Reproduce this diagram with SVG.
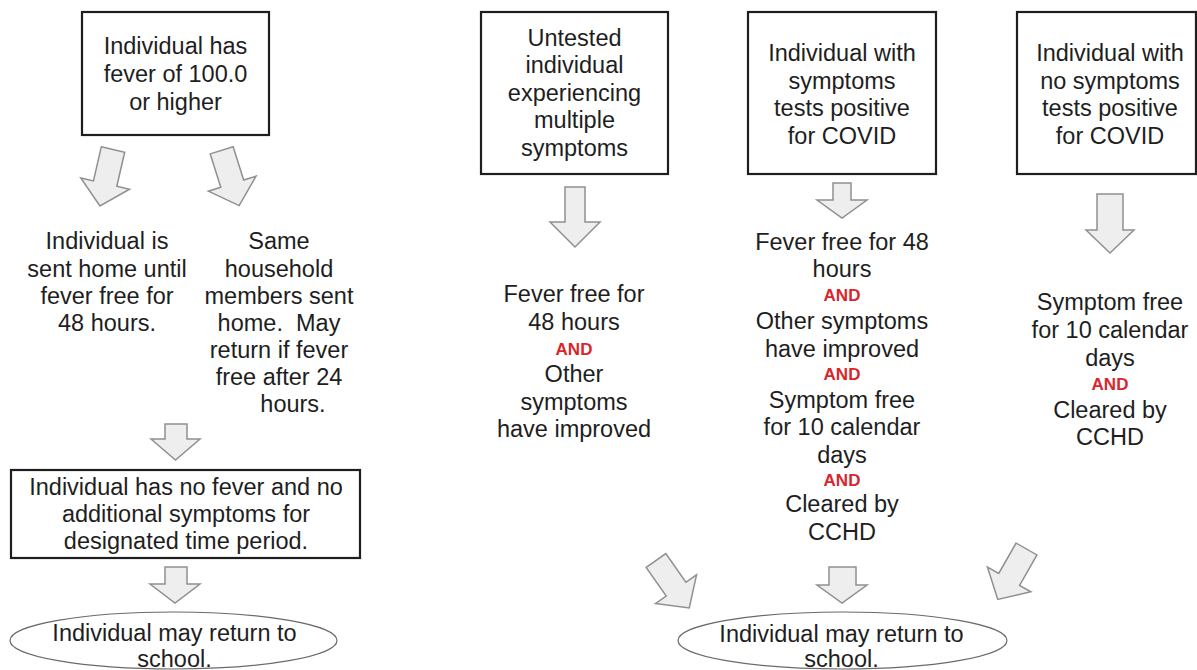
<svg xmlns="http://www.w3.org/2000/svg" width="1197" height="670" viewBox="0 0 1197 670">
<defs>
<style>
.t{font-family:"Liberation Sans",Arial,sans-serif;font-size:23.5px;fill:#1e1e1e;text-anchor:middle}
.and{font-family:"Liberation Sans",Arial,sans-serif;font-size:17px;font-weight:bold;fill:#d9262c;text-anchor:middle}
.box{fill:#ffffff;stroke:#1e1e1e;stroke-width:2.2}
.ell{fill:#ffffff;stroke:#6a6a6a;stroke-width:1.2}
.arr{fill:#eeeeee;stroke:#909090;stroke-width:1.5;stroke-linejoin:miter}
</style>
<path id="da" d="M-12,0 H12 V35 H25 L0,58 L-25,35 H-12 Z"/>
</defs>
<rect width="1197" height="670" fill="#ffffff"/>

<g id="connectors">
<use href="#da" class="arr" transform="translate(113,149.5) rotate(13)"/>
<use href="#da" class="arr" transform="translate(221.7,150.3) rotate(-17.5)"/>
<path class="arr" d="M165,424 H187 V439 H200 L175.5,460 L151,439 H165 Z"/>
<path class="arr" d="M165,567 H187 V584 H200 L175,603 L150,584 H165 Z"/>
<path class="arr" d="M565,187 H585 V222 H600 L575,247 L550,222 H565 Z"/>
<path class="arr" d="M833,183 H851 V200 H867 L842,218 L817,200 H833 Z"/>
<path class="arr" d="M1097,194 H1123 V230 H1134 L1110,253 L1086,230 H1097 Z"/>
<path class="arr" d="M829,567 H856 V585 H867 L842,603 L817,585 H829 Z"/>
<use href="#da" class="arr" transform="translate(656,560.5) rotate(-35)"/>
<use href="#da" class="arr" transform="translate(1026.5,549) rotate(29.7)"/>
</g>

<g id="n1">
<rect class="box" x="82" y="12" width="187" height="123"/>
<text class="t" x="175.5" y="54">Individual has</text>
<text class="t" x="175.5" y="82">fever of 100.0</text>
<text class="t" x="175.5" y="110">or higher</text>
</g>

<g id="n2">
<text class="t" x="107" y="249">Individual is</text>
<text class="t" x="107" y="276.5">sent home until</text>
<text class="t" x="107" y="304">fever free for</text>
<text class="t" x="107" y="331">48 hours.</text>
</g>

<g id="n3">
<text class="t" x="279" y="249">Same</text>
<text class="t" x="279" y="276.5">household</text>
<text class="t" x="279" y="304">members sent</text>
<text class="t" x="279" y="331" xml:space="preserve">home.  May</text>
<text class="t" x="279" y="358">return if fever</text>
<text class="t" x="279" y="385">free after 24</text>
<text class="t" x="293" y="412">hours.</text>
</g>

<g id="n4">
<rect class="box" x="11" y="470" width="349" height="88"/>
<text class="t" x="186" y="495">Individual has no fever and no</text>
<text class="t" x="186" y="522">additional symptoms for</text>
<text class="t" x="186" y="549">designated time period.</text>
</g>

<g id="n5">
<ellipse class="ell" cx="173.5" cy="640.5" rx="163.5" ry="28.5"/>
<text class="t" x="174.5" y="641">Individual may return to</text>
<text class="t" x="174.5" y="667">school.</text>
</g>

<g id="n6">
<rect class="box" x="481" y="12" width="187" height="162"/>
<text class="t" x="574.5" y="46">Untested</text>
<text class="t" x="574.5" y="73">individual</text>
<text class="t" x="574.5" y="100.5">experiencing</text>
<text class="t" x="574.5" y="128">multiple</text>
<text class="t" x="574.5" y="155.5">symptoms</text>
</g>

<g id="n7">
<rect class="box" x="748" y="12" width="188" height="162"/>
<text class="t" x="842" y="61">Individual with</text>
<text class="t" x="842" y="88.5">symptoms</text>
<text class="t" x="842" y="116">tests positive</text>
<text class="t" x="842" y="143.5">for COVID</text>
</g>

<g id="n8">
<rect class="box" x="1017" y="12" width="179" height="162"/>
<text class="t" x="1110" y="61">Individual with</text>
<text class="t" x="1110" y="88.5">no symptoms</text>
<text class="t" x="1110" y="116">tests positive</text>
<text class="t" x="1110" y="143.5">for COVID</text>
</g>

<g id="n9">
<text class="t" x="574" y="302">Fever free for</text>
<text class="t" x="574" y="330">48 hours</text>
<text class="and" x="574" y="355">AND</text>
<text class="t" x="574" y="382">Other</text>
<text class="t" x="574" y="409.5">symptoms</text>
<text class="t" x="574" y="437">have improved</text>
</g>

<g id="n10">
<text class="t" x="842" y="249.5">Fever free for 48</text>
<text class="t" x="842" y="277">hours</text>
<text class="and" x="842" y="301">AND</text>
<text class="t" x="842" y="329">Other symptoms</text>
<text class="t" x="842" y="356.5">have improved</text>
<text class="and" x="842" y="379.5">AND</text>
<text class="t" x="842" y="408">Symptom free</text>
<text class="t" x="842" y="435">for 10 calendar</text>
<text class="t" x="842" y="462.5">days</text>
<text class="and" x="842" y="485.5">AND</text>
<text class="t" x="842" y="512">Cleared by</text>
<text class="t" x="842" y="540">CCHD</text>
</g>

<g id="n11">
<text class="t" x="1110" y="310">Symptom free</text>
<text class="t" x="1110" y="338">for 10 calendar</text>
<text class="t" x="1110" y="366">days</text>
<text class="and" x="1110" y="390">AND</text>
<text class="t" x="1110" y="418">Cleared by</text>
<text class="t" x="1110" y="445">CCHD</text>
</g>

<g id="n12">
<ellipse class="ell" cx="842.5" cy="640.5" rx="164.5" ry="28.5"/>
<text class="t" x="841.5" y="641.5">Individual may return to</text>
<text class="t" x="841.5" y="667">school.</text>
</g>
</svg>
